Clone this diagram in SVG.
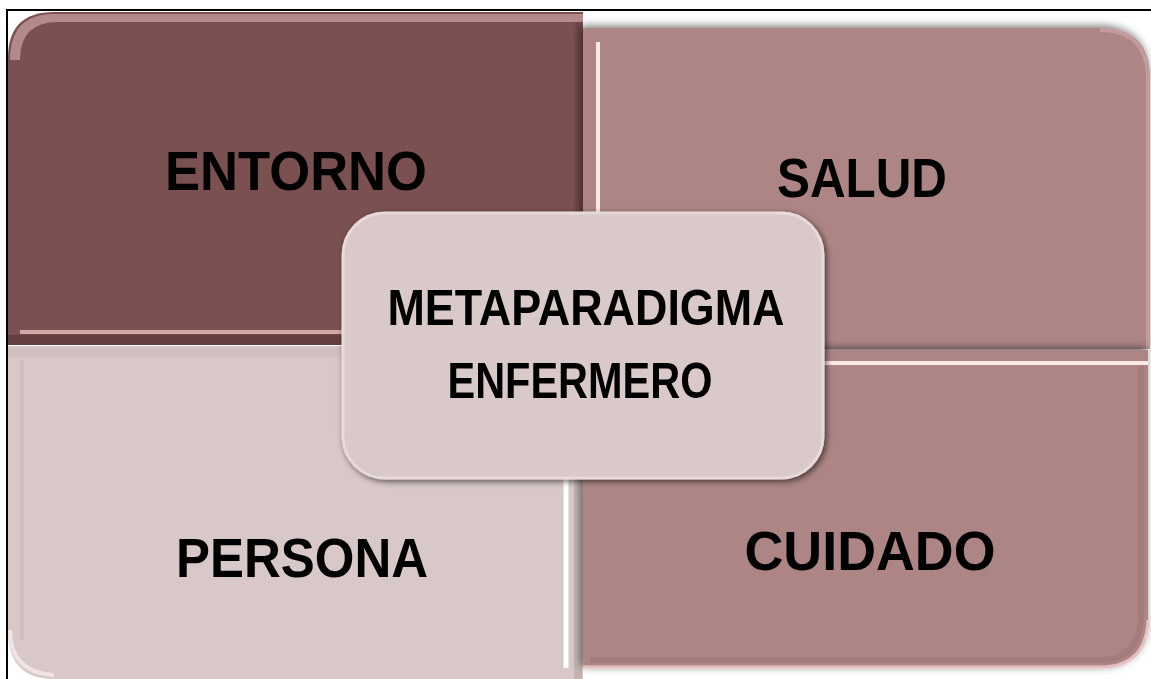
<svg xmlns="http://www.w3.org/2000/svg" width="1151" height="679" viewBox="0 0 1151 679">
<defs>
<style>
.lbl{font-family:"Liberation Sans",Arial,sans-serif;font-weight:bold;fill:#000;text-anchor:middle}
.big{font-size:55px}
.mid{font-size:50px}
</style>
<filter id="sh" x="-10%" y="-10%" width="120%" height="120%">
<feGaussianBlur in="SourceAlpha" stdDeviation="4"/>
<feOffset dx="-2" dy="-2" result="b"/>
<feFlood flood-color="#000" flood-opacity="0.55"/>
<feComposite in2="b" operator="in"/>
<feMerge><feMergeNode/><feMergeNode in="SourceGraphic"/></feMerge>
</filter>
<filter id="shc" x="-10%" y="-10%" width="120%" height="120%">
<feGaussianBlur in="SourceAlpha" stdDeviation="3"/>
<feOffset dx="2" dy="2" result="b"/>
<feFlood flood-color="#000" flood-opacity="0.6"/>
<feComposite in2="b" operator="in"/>
<feMerge><feMergeNode/><feMergeNode in="SourceGraphic"/></feMerge>
</filter>
</defs>
<rect width="1151" height="679" fill="#fff"/>
<path d="M7 679V10H1151" fill="none" stroke="#000" stroke-width="2"/>

<g id="entorno">
<path d="M8 345V58Q8 12 54 12H583V345Z" fill="#7a5150"/>
<path d="M10 60Q10 14 54 14H583V22H58Q20 22 20 60Z" fill="#c39797" opacity="0.8"/>
<path d="M20 333H570L578 325V22" fill="none" stroke="#6a4443" stroke-width="6" opacity="0.5"/>
<path d="M20 332H575" stroke="#d6a6a6" stroke-width="4"/>
<path d="M8 340H583" stroke="#653f3e" stroke-width="10"/>
<text class="lbl big" x="296" y="190" textLength="262" lengthAdjust="spacingAndGlyphs">ENTORNO</text>
</g>

<g id="salud" filter="url(#sh)">
<path d="M583 28H1100Q1150 28 1150 78V349H583Z" fill="#ad8585"/>
<path d="M598 42V349" stroke="#ffe8e8" stroke-width="4"/>
<path d="M1100 30Q1147 30 1148 78V349" fill="none" stroke="#c9a0a0" stroke-width="4" opacity="0.8"/>
<text class="lbl big" x="862" y="197" textLength="170" lengthAdjust="spacingAndGlyphs">SALUD</text>
</g>

<g id="persona">
<path d="M8 346H583V679H54Q8 679 8 630Z" fill="#d9c8c8"/>
<path d="M8 352H583" stroke="#d0bdbd" stroke-width="10" opacity="0.7"/>
<path d="M22 360V640" stroke="#cdb9b9" stroke-width="4" opacity="0.6"/>
<path d="M10 630Q10 672 54 675" fill="none" stroke="#f0e4e4" stroke-width="4"/>
<path d="M566 360V668" stroke="#ffffff" stroke-width="5"/>
<path d="M578 346V679" stroke="#c4b4b4" stroke-width="8"/>
<text class="lbl big" x="302" y="577" textLength="252" lengthAdjust="spacingAndGlyphs">PERSONA</text>
</g>

<g id="cuidado" filter="url(#sh)">
<path d="M583 350H1148V620Q1148 668 1100 668H583Z" fill="#ad8585"/>
<path d="M596 363H1148" stroke="#ffe8e8" stroke-width="4"/>
<path d="M590 660H1100Q1138 660 1141 620V366" fill="none" stroke="#9c7474" stroke-width="6" opacity="0.5"/>
<path d="M583 667H1100Q1146 667 1148 620" fill="none" stroke="#e8c0c0" stroke-width="3"/>
<text class="lbl big" x="870" y="570" textLength="251" lengthAdjust="spacingAndGlyphs">CUIDADO</text>
</g>

<g id="centro" filter="url(#shc)">
<rect x="343" y="213" width="480" height="265" rx="42" fill="#d9c9c9" stroke="#e8dada" stroke-width="3"/>
<text class="lbl mid" x="586" y="325" textLength="397" lengthAdjust="spacingAndGlyphs">METAPARADIGMA</text>
<text class="lbl mid" x="580" y="398" textLength="265" lengthAdjust="spacingAndGlyphs">ENFERMERO</text>
</g>
</svg>
